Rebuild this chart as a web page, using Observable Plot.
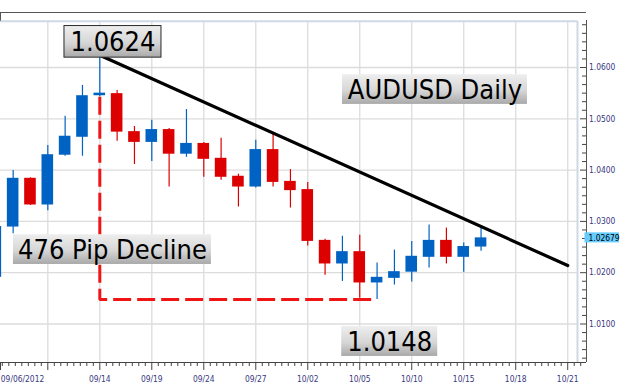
<!DOCTYPE html>
<html><head><meta charset="utf-8">
<script src="https://cdn.jsdelivr.net/npm/d3@7"></script>
<script src="https://cdn.jsdelivr.net/npm/@observablehq/plot@0.6"></script>
<style>
html,body{margin:0;padding:0;background:#fff;}
#chart svg{display:block;}
</style></head><body><div id="chart"></div>
<script>
// ---- data (AUDUSD daily candles) ----
const dates = ["09/06","09/07","09/10","09/11","09/12","09/13","09/14","09/17","09/18","09/19",
  "09/20","09/21","09/24","09/25","09/26","09/27","09/28","10/01","10/02","10/03",
  "10/04","10/05","10/08","10/09","10/10","10/11","10/12","10/15","10/16"];
const opens  = [1.0191,1.0289,1.0384,1.0332,1.0429,1.0464,1.0545,1.0549,1.0475,1.0454,
  1.0479,1.0431,1.0452,1.0423,1.0388,1.0367,1.0440,1.0378,1.0362,1.0263,
  1.0217,1.0241,1.0180,1.0189,1.0201,1.0230,1.0263,1.0230,1.0250];
const highs  = [1.0295,1.0399,1.0385,1.0448,1.0505,1.0565,1.0624,1.0555,1.0485,1.0497,
  1.0481,1.0518,1.0454,1.0462,1.0392,1.0458,1.0474,1.0401,1.0376,1.0265,
  1.0271,1.0273,1.0219,1.0244,1.0261,1.0293,1.0287,1.0258,1.0289];
const lows   = [1.0185,1.0276,1.0331,1.0321,1.0427,1.0427,1.0543,1.0456,1.0411,1.0417,
  1.0367,1.0425,1.0386,1.0380,1.0328,1.0365,1.0367,1.0326,1.0252,1.0195,
  1.0183,1.0150,1.0148,1.0176,1.0182,1.0209,1.0217,1.0201,1.0242];
const closes = [1.0290,1.0384,1.0332,1.0430,1.0466,1.0545,1.0550,1.0474,1.0454,1.0479,
  1.0431,1.0452,1.0421,1.0386,1.0367,1.0440,1.0376,1.0360,1.0261,1.0217,
  1.0241,1.0180,1.0191,1.0202,1.0232,1.0263,1.0230,1.0251,1.02679];

// x tick slots (trading-day positions) and labels
const xTickPos    = [0, 3, 6, 9, 12, 15, 18, 21, 24, 27, 30, 33];
const xTickLabels = ["09/06/2012", "", "09/14", "09/19", "09/24", "09/27", "10/02", "10/05", "10/10", "10/15", "10/18", "10/21"];
const yTicks = [1.01, 1.02, 1.03, 1.04, 1.05, 1.06];

// trend line and decline markers
const trendX = [6, 33];
const trendY = [1.0624, 1.0214];
const declineX = [6, 6, 22];
const declineY = [1.0543, 1.0148, 1.0148];

// annotation labels
const noteText = ["1.0624", "AUDUSD Daily", "476 Pip Decline", "1.0148"];
const noteX = [6.76, 25.34, 6.73, 22.73];
const noteY = [1.0650, 1.0557, 1.0245, 1.0066];
const lastPrice = 1.02679;

// ---- layout constants ----
const W = 624, H = 387;
const xDom = [0.270, 34.084];
const yDom = [1.002495, 1.070721];
const xInner = 33.565, yInner = 1.069025;
const FONT = "'DejaVu Sans Condensed', 'Liberation Sans', sans-serif";
const BLUE = "#0062c2", RED = "#dc0000";

const candles = dates.map((d, i) => ({
  p: i, date: d, o: opens[i], h: highs[i], l: lows[i], c: closes[i]
}));
const col = d => d.c >= d.o ? BLUE : RED;

const minorX = d3.range(0, 34.01, 0.375).filter(v => Math.abs(v / 3 - Math.round(v / 3)) > 1e-6);
const minorY = d3.range(1, 60).map(k => 1.0 + k * 0.01 / 6)
  .filter(v => v > yDom[0] && v < yInner && Math.abs(v * 100 - Math.round(v * 100)) > 1e-6);

const boxW = [97, 185, 198, 96], boxH = [31.6, 29.7, 29.7, 30];
const notes = noteText.map((t, i) => ({t, x: noteX[i], y: noteY[i]}));
const noteMarks = notes.flatMap((n, i) => [
  Plot.rect([n], {x1: "x", x2: "x", y1: "y", y2: "y",
    insetLeft: -boxW[i] / 2, insetRight: -boxW[i] / 2, insetTop: -boxH[i] / 2, insetBottom: -boxH[i] / 2,
    fill: "url(#boxg)", stroke: i === 0 ? "#2a2a2a" : "none", strokeWidth: 1}),
  Plot.text([n], {x: "x", y: "y", text: "t", fontSize: 27, fontFamily: FONT, fill: "#000", dy: 1})
]);

const chart = Plot.plot({
  width: W, height: H,
  marginLeft: 0, marginRight: 38, marginTop: 12, marginBottom: 25,
  x: {domain: xDom, axis: null},
  y: {domain: yDom, axis: null},
  style: {background: "#fff", overflow: "visible"},
  marks: [
    // grid
    Plot.ruleX(xTickPos.filter(p => p > xDom[0]), {x: d => d, y1: yDom[0], y2: yInner, stroke: "#dcdcdc", strokeWidth: 1.3}),
    Plot.ruleY(yTicks, {y: d => d, x1: xDom[0], x2: xInner, stroke: "#dcdcdc", strokeWidth: 1.3}),
    // inner light border
    Plot.ruleX([xInner], {x: d => d, y1: yDom[0], y2: yInner, stroke: "#cfd9e4", strokeWidth: 2}),
    Plot.ruleY([yInner], {y: d => d, x1: xDom[0], x2: xInner, stroke: "#cfd9e4", strokeWidth: 2}),
    // outer frame
    Plot.ruleY([yDom[1]], {y: d => d, x1: xDom[0], x2: xDom[1], stroke: "#555"}),
    Plot.ruleX([xDom[1]], {x: d => d, y1: yDom[0], y2: yDom[1], insetBottom: -8, stroke: "#555"}),
    Plot.ruleX([xDom[0]], {x: d => d, y1: yInner, y2: yDom[1], stroke: "#555"}),
    // candles
    Plot.ruleX(candles, {x: "p", y1: "l", y2: "h", stroke: col, strokeWidth: 1.2}),
    Plot.rect(candles, {x1: "p", x2: "p", y1: "o", y2: d => (Math.abs(d.c - d.o) < 0.0004 ? d.o + 0.0005 : d.c),
      insetLeft: -5.8, insetRight: -5.8, fill: col}),
    // trend line
    Plot.line(trendX.map((x, i) => ({x, y: trendY[i]})), {x: "x", y: "y", stroke: "#000", strokeWidth: 3.2}),
    // decline dashed line
    Plot.line(declineX.map((x, i) => ({x, y: declineY[i]})), {x: "x", y: "y", stroke: "#f01414", strokeWidth: 3,
      strokeDasharray: "18,6", strokeLinejoin: "miter", strokeLinecap: "butt"}),
    // annotation boxes
    ...noteMarks,
    // x axis
    Plot.ruleY([yDom[0]], {y: d => d, x1: xDom[0], x2: xDom[1], stroke: "#444"}),
    Plot.ruleX(xTickPos, {x: d => d, y1: yDom[0], y2: yDom[0], insetBottom: -8, stroke: "#444"}),
    Plot.ruleX([xDom[0]], {x: d => d, y1: yDom[0], y2: yDom[0], insetBottom: -8, stroke: "#444"}),
    Plot.ruleX(minorX, {x: d => d, y1: yDom[0], y2: yDom[0], insetBottom: -4, stroke: "#444"}),
    Plot.text(xTickPos.slice(1), {x: d => d, y: yDom[0], dy: 17,
      text: (d, i) => xTickLabels[i + 1], fontSize: 8.4, fontFamily: FONT, fill: "#3a3a82"}),
    Plot.text([xTickPos[0]], {x: d => d, y: yDom[0], dy: 17, dx: 5, textAnchor: "start",
      text: () => xTickLabels[0], fontSize: 8.4, fontFamily: FONT, fill: "#3a3a82"}),
    // y axis (right)
    Plot.ruleY(yTicks, {y: d => d, x1: xDom[1], x2: xDom[1], insetLeft: -6, stroke: "#444"}),
    Plot.ruleY(minorY, {y: d => d, x1: xDom[1], x2: xDom[1], insetLeft: -4, stroke: "#444"}),
    Plot.text(yTicks, {x: xDom[1], y: d => d, text: d => d.toFixed(4), textAnchor: "start", dx: 2.5,
      fontSize: 8.4, fontFamily: FONT, fill: "#3a3a82"}),
    // last price tag
    Plot.rect([lastPrice], {x1: xDom[1], x2: xDom[1], y1: d => d, y2: d => d,
      insetLeft: -1.5, insetRight: -33, insetTop: -5, insetBottom: -5, fill: "#66ccff"}),
    Plot.text([lastPrice], {x: xDom[1], y: d => d, text: d => d.toFixed(5), textAnchor: "start", dx: 2,
      fontSize: 8.4, fontFamily: FONT, fill: "#000"})
  ]
});

d3.select(chart).insert("defs", ":first-child").html(
  '<linearGradient id="boxg" x1="0" y1="0" x2="0" y2="1">' +
  '<stop offset="0" stop-color="#eeeeee"/><stop offset="0.55" stop-color="#d6d6d6"/>' +
  '<stop offset="1" stop-color="#a9a9a9"/></linearGradient>');
document.getElementById("chart").appendChild(chart);
</script></body></html>
